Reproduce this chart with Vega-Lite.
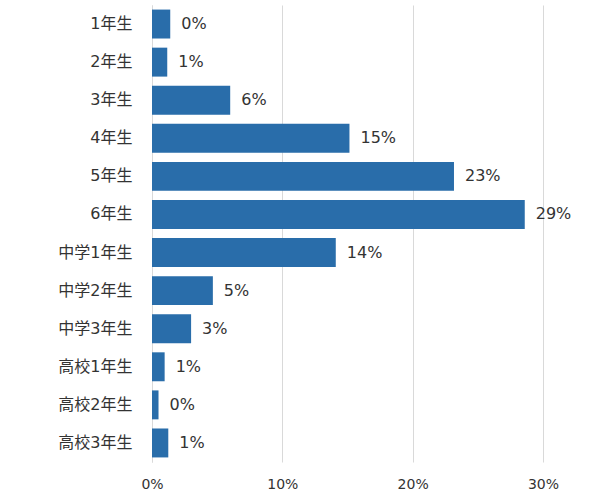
{
  "$schema": "https://vega.github.io/schema/vega-lite/v6.json",
  "autosize": "none",
  "width": 391,
  "height": 457,
  "padding": {"left": 152, "top": 5, "right": 57, "bottom": 32},
  "background": "white",
  "config": {
    "view": {"stroke": null},
    "font": "DejaVu Sans, Noto Sans CJK JP"
  },
  "data": {
    "values": [
      {"grade": "1年生", "share": 0.014, "label": "0%"},
      {"grade": "2年生", "share": 0.0117, "label": "1%"},
      {"grade": "3年生", "share": 0.060, "label": "6%"},
      {"grade": "4年生", "share": 0.1515, "label": "15%"},
      {"grade": "5年生", "share": 0.2317, "label": "23%"},
      {"grade": "6年生", "share": 0.286, "label": "29%"},
      {"grade": "中学1年生", "share": 0.141, "label": "14%"},
      {"grade": "中学2年生", "share": 0.0467, "label": "5%"},
      {"grade": "中学3年生", "share": 0.030, "label": "3%"},
      {"grade": "高校1年生", "share": 0.0097, "label": "1%"},
      {"grade": "高校2年生", "share": 0.005, "label": "0%"},
      {"grade": "高校3年生", "share": 0.0125, "label": "1%"}
    ]
  },
  "encoding": {
    "y": {
      "field": "grade",
      "type": "nominal",
      "sort": null,
      "title": null,
      "scale": {"paddingInner": 0.24, "paddingOuter": 0.12},
      "axis": {
        "ticks": false,
        "domain": true,
        "domainColor": "#d9d9d9",
        "labelPadding": 20,
        "labelFontSize": 16,
        "labelColor": "#333333",
        "labelFont": "DejaVu Sans, Noto Sans CJK JP"
      }
    },
    "x": {
      "field": "share",
      "type": "quantitative",
      "title": null,
      "scale": {"domain": [0, 0.3]},
      "axis": {
        "format": ".0%",
        "values": [0, 0.1, 0.2, 0.3],
        "grid": true,
        "gridColor": "#d9d9d9",
        "domain": false,
        "ticks": false,
        "labelFlush": false,
        "labelPadding": 15,
        "labelFontSize": 14,
        "labelColor": "#333333",
        "labelFont": "DejaVu Sans"
      }
    }
  },
  "layer": [
    {
      "mark": {"type": "bar", "color": "#296daa"}
    },
    {
      "mark": {
        "type": "text",
        "align": "left",
        "baseline": "middle",
        "dx": 11,
        "fontSize": 16,
        "color": "#333333",
        "font": "DejaVu Sans"
      },
      "encoding": {"text": {"field": "label"}}
    }
  ]
}
